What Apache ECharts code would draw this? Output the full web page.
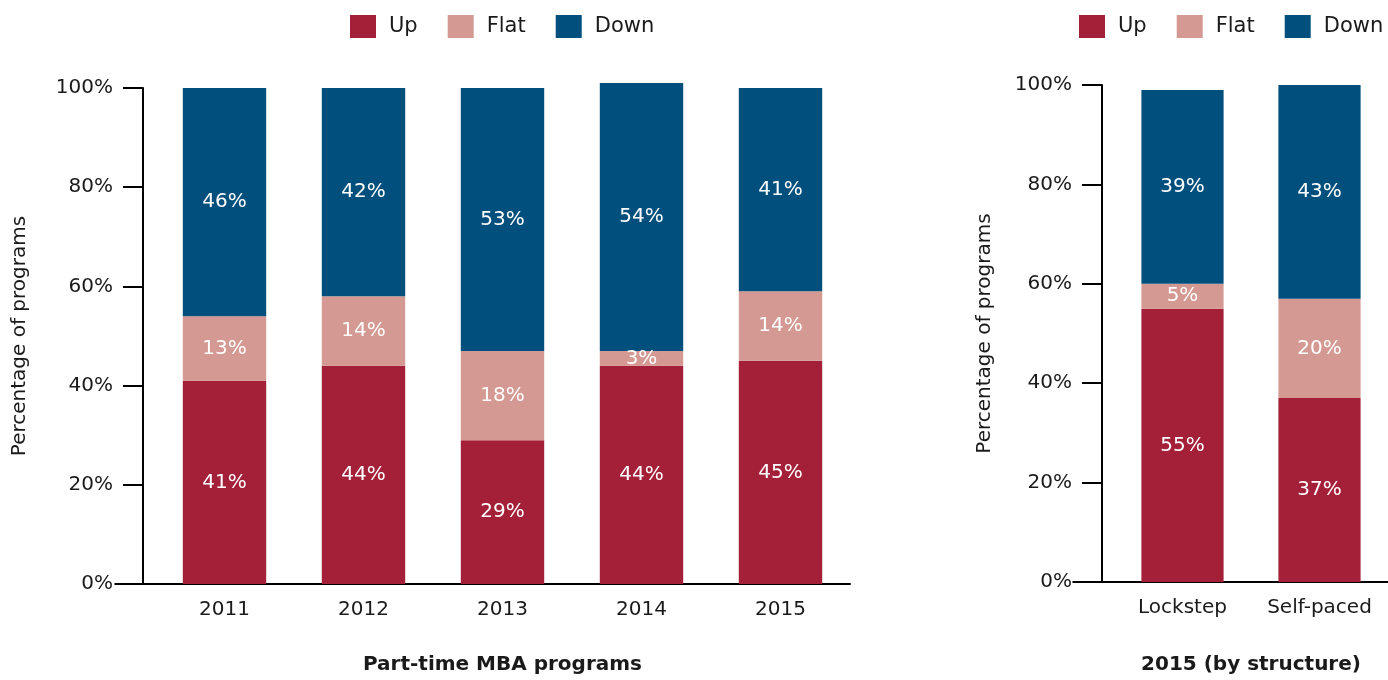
<!DOCTYPE html>
<html>
<head>
<meta charset="utf-8">
<script src="https://cdn.jsdelivr.net/npm/echarts@6/dist/echarts.min.js"></script>
<style>
html, body { margin: 0; padding: 0; background: #fff; }
#chart { width: 1388px; height: 680px; }
</style>
</head>
<body>
<div id="chart"></div>
<script>
// part-time MBA, by year
var years = ['2011', '2012', '2013', '2014', '2015']
var yearUp = [41, 44, 29, 44, 45]
var yearFlat = [13, 14, 18, 3, 14]
var yearDown = [46, 42, 53, 54, 41]

// 2015, by structure
var structures = ['Lockstep', 'Self-paced']
var structUp = [55, 37]
var structFlat = [5, 20]
var structDown = [39, 43]

var seriesNames = ['Up', 'Flat', 'Down']
var colors = ['#A41F38', '#D49992', '#004F7C']

var font = 'DejaVu Sans'
var ink = '#1a1a1a'

function yAxisFor(gridIndex, gap) {
    return {
        type: 'value',
        gridIndex: gridIndex,
        min: 0,
        max: 100,
        interval: 20,
        offset: 12,
        name: 'Percentage of programs',
        nameLocation: 'middle',
        nameGap: gap,
        nameTextStyle: { fontFamily: font, fontSize: 20, color: ink },
        axisLine: { show: true, lineStyle: { color: '#000', width: 2 } },
        axisTick: { show: true, length: 20, lineStyle: { color: '#000', width: 2 } },
        axisLabel: { formatter: '{value}%', margin: 30, fontFamily: font, fontSize: 20, color: ink },
        splitLine: { show: false }
    }
}

function xAxisFor(gridIndex, cats, title, gap) {
    return {
        type: 'category',
        gridIndex: gridIndex,
        data: cats,
        name: title,
        nameLocation: 'middle',
        nameGap: gap,
        nameTextStyle: { fontFamily: font, fontSize: 20, color: ink, fontWeight: 'bold' },
        axisLine: { show: true, lineStyle: { color: '#000', width: 2 } },
        axisTick: { show: false },
        axisLabel: { margin: 16, fontFamily: font, fontSize: 20, color: ink }
    }
}

function stackSeries(gridIndex, stack, lists) {
    return lists.map(function (vals, i) {
        return {
            name: seriesNames[i],
            type: 'bar',
            stack: stack,
            xAxisIndex: gridIndex,
            yAxisIndex: gridIndex,
            barWidth: '60%',
            clip: false,
            itemStyle: { color: colors[i] },
            label: {
                show: true,
                position: 'inside',
                formatter: '{c}%',
                color: '#fff',
                fontFamily: font,
                fontSize: 20
            },
            data: vals
        }
    })
}

function legendAt(left) {
    return {
        left: left,
        top: 15,
        padding: 0,
        icon: 'rect',
        itemWidth: 26,
        itemHeight: 23,
        itemGap: 30,
        data: seriesNames,
        textStyle: { fontFamily: font, fontSize: 21, color: ink, padding: [0, 0, 0, 8] }
    }
}

var chart = echarts.init(document.getElementById('chart'))
chart.setOption({
    animation: false,
    color: colors,
    legend: [legendAt(350), legendAt(1079)],
    grid: [
        { left: 155, right: 538, top: 88, bottom: 93 },
        { left: 1114, right: 0, top: 85, bottom: 95 }
    ],
    xAxis: [
        xAxisFor(0, years, 'Part-time MBA programs', 71),
        xAxisFor(1, structures, '2015 (by structure)', 73)
    ],
    yAxis: [yAxisFor(0, 113), yAxisFor(1, 107)],
    series: stackSeries(0, 'year', [yearUp, yearFlat, yearDown])
        .concat(stackSeries(1, 'struct', [structUp, structFlat, structDown]))
})

// short pieces that join the offset y axis to the x axis line
var joins = [0, 1].map(function (g) {
    var y = chart.convertToPixel({ yAxisIndex: g }, 0)
    var x = chart.convertToPixel({ xAxisIndex: g }, 0) - 70
    return { type: 'line', shape: { x1: x - 40, y1: y, x2: x + 2, y2: y }, style: { stroke: '#000', lineWidth: 2 } }
})
chart.setOption({ graphic: joins })
</script>
</body>
</html>
